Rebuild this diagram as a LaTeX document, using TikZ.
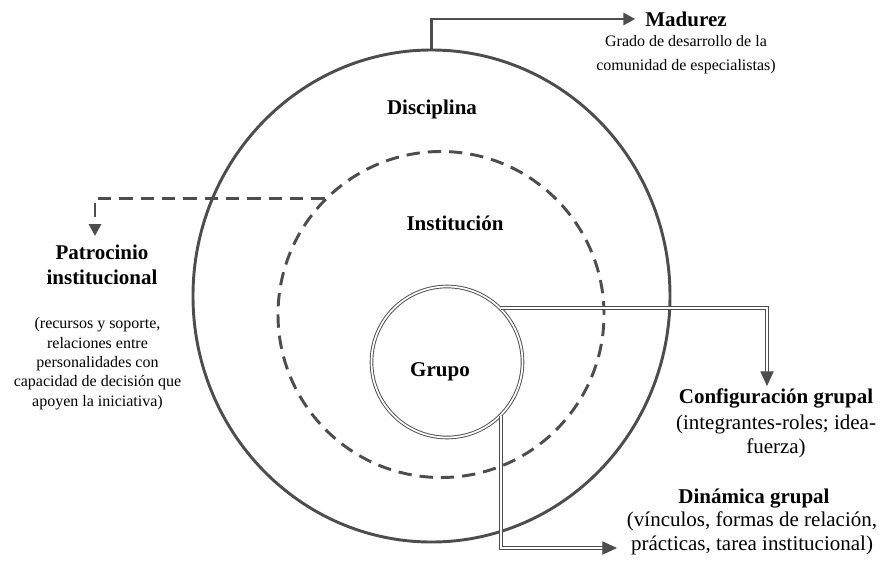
\documentclass[tikz,border=0pt]{standalone}
\usepackage{fontspec}
\setmainfont{Liberation Serif}
\usetikzlibrary{arrows.meta,shapes,positioning}
\definecolor{linea}{HTML}{4D4D4D}

\begin{document}
\begin{tikzpicture}[x=0.75pt,y=-0.75pt]
    \tikzset{ring/.style = {draw=linea,line width=2.2pt,inner sep=0pt}}
    \tikzset{dring/.style = {draw=linea,double=white,line width=0.7pt,double distance=1.3pt,inner sep=0pt}}
    \tikzset{edge/.style = {draw=linea,line width=2.2pt,-{Triangle[length=9pt,width=9pt]}}}
    \tikzset{dedge/.style = {draw=linea,double=white,line width=0.7pt,double distance=1.3pt,-{Triangle[length=11pt,width=10pt,fill=linea]}}}
    \tikzset{dashline/.style = {dash pattern=on 10pt off 6pt}}
    \tikzset{title/.style = {font=\fontsize{15.75}{18.75}\selectfont\bfseries,align=center}}
    \tikzset{body/.style = {font=\fontsize{15.75}{17.6}\selectfont,align=center}}
    \tikzset{small/.style = {font=\fontsize{12}{18}\selectfont,align=center}}
    \useasboundingbox (0,0) rectangle (881,561);
    % rings
    \node[ring,ellipse,minimum width=357.75pt,minimum height=369pt] (1) at (431.5,296) {};
    \node[ring,dashline,circle,minimum size=244.5pt] (2) at (441,314.5) {};
    \node[dring,circle,minimum size=113.25pt] (3) at (447,362) {};
    \node[title] (4) at (432,109) {Disciplina};
    \node[title] (5) at (455,223) {Institución};
    \node[title] (6) at (440,372) {Grupo};
    % labels
    \node[title] (7) at (686,19) {Madurez};
    \node[small] (8) at (686,55) {Grado de desarrollo de la\\comunidad de especialistas)};
    \node[title] (9) at (102,264.5) {Patrocinio\\institucional};
    \node[small,font=\fontsize{12}{14.5}\selectfont] (10) at (97.5,363.5) {(recursos y soporte,\\relaciones entre\\personalidades con\\capacidad de decisión que\\apoyen la iniciativa)};
    \node[title] (11) at (776,398) {Configuración grupal};
    \node[body] (12) at (776,436.5) {(integrantes-roles; idea-\\fuerza)};
    \node[title] (13) at (754,499) {Dinámica grupal};
    \node[body] (14) at (752,533.5) {(vínculos, formas de relación,\\prácticas, tarea institucional)};
    \coordinate (a) at (95,236);
    \coordinate (b) at (767,386);
    \coordinate (c) at (617,548);
    % arrows
    \draw[edge,shorten >=4pt] (1.north) |- (7.west);
    \draw[edge,dashline] (2.135) -| (a);
    \draw[dedge] (3.45) -| (b);
    \draw[dedge] (3.-45) |- (c);
\end{tikzpicture}
\end{document}
